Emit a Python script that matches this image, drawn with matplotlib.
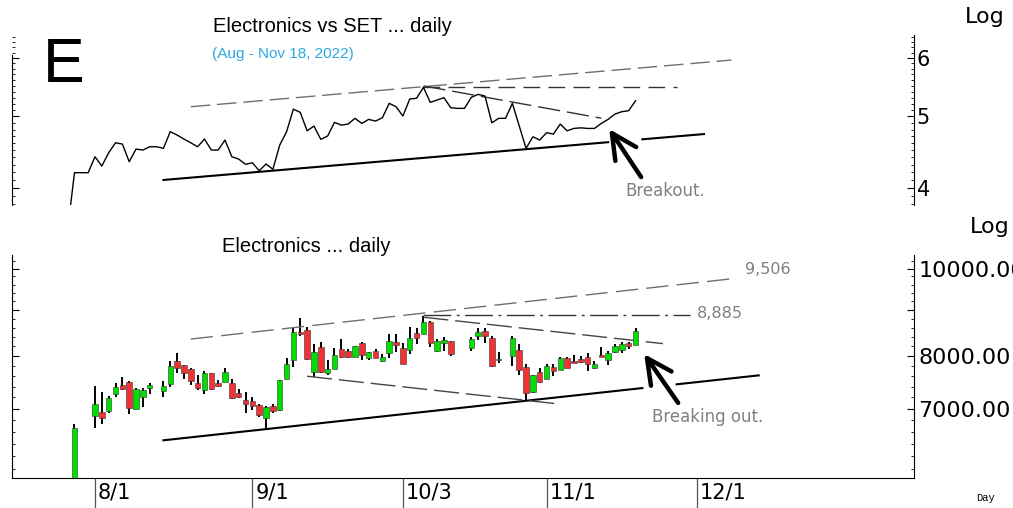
import numpy as np
import pandas as pd
import matplotlib

matplotlib.use("Agg")
import matplotlib.pyplot as plt
from matplotlib.ticker import FixedLocator, NullFormatter

W, H = 1013, 508
BASE = "2022-08-01"  # weekday axis: position = weekdays since 8/1 (holidays keep a slot)

# ---- Electronics vs SET ratio (weekdays, holidays carried forward) ----
ratio_start, ratio_end = "2022-07-26", "2022-11-18"
ratio = [
    3.51, 4.196, 4.196, 4.196,
    4.410, 4.284, 4.465, 4.606, 4.588, 4.342, 4.517, 4.503, 4.550, 4.550,
    4.527, 4.768, 4.719, 4.660, 4.606, 4.550, 4.660, 4.503, 4.503, 4.646,
    4.410, 4.378, 4.307,
    4.328, 4.222, 4.311, 4.241, 4.573, 4.768, 5.116, 5.064, 4.782, 4.852,
    4.656, 4.704, 4.909, 4.867, 4.883, 4.971, 4.893, 4.955, 4.929, 4.980,
    5.209, 5.154,
    5.007, 5.280, 5.292, 5.476, 5.225, 5.263, 5.301, 5.138, 5.128, 5.128,
    5.307, 5.357, 5.329, 4.902, 4.971, 4.971, 5.209, 4.855, 4.527, 4.693,
    4.646,
    4.753, 4.733, 4.883, 4.782, 4.817, 4.826, 4.817, 4.817, 4.893, 4.955,
    5.038, 5.075, 5.091, 5.251,
]

# ---- Electronics index, daily OHLC ----
dates = [
    "2022-07-27", "2022-08-01", "2022-08-02", "2022-08-03", "2022-08-04", "2022-08-05",
    "2022-08-08", "2022-08-09", "2022-08-10", "2022-08-11", "2022-08-15", "2022-08-16",
    "2022-08-17", "2022-08-18", "2022-08-19", "2022-08-22", "2022-08-23", "2022-08-24",
    "2022-08-25", "2022-08-26", "2022-08-29", "2022-08-30", "2022-08-31", "2022-09-01",
    "2022-09-02", "2022-09-05", "2022-09-06", "2022-09-07", "2022-09-08", "2022-09-09",
    "2022-09-12", "2022-09-13", "2022-09-14", "2022-09-15", "2022-09-16", "2022-09-19",
    "2022-09-20", "2022-09-21", "2022-09-22", "2022-09-23", "2022-09-26", "2022-09-27",
    "2022-09-28", "2022-09-29", "2022-09-30", "2022-10-03", "2022-10-04", "2022-10-05",
    "2022-10-06", "2022-10-07", "2022-10-10", "2022-10-11", "2022-10-12", "2022-10-17",
    "2022-10-18", "2022-10-19", "2022-10-20", "2022-10-21", "2022-10-25", "2022-10-26",
    "2022-10-27", "2022-10-28", "2022-10-31", "2022-11-01", "2022-11-02", "2022-11-03",
    "2022-11-04", "2022-11-07", "2022-11-08", "2022-11-09", "2022-11-10", "2022-11-11",
    "2022-11-14", "2022-11-15", "2022-11-16", "2022-11-17", "2022-11-18",
]
opens = [
    5700, 6874, 6944, 6956, 7258, 7426, 7484, 6997, 7214, 7370, 7314, 7451,
    7907, 7821, 7735, 7477, 7338, 7657, 7464, 7490, 7464, 7276, 7154, 7141,
    7068, 6839, 7045, 6974, 7553, 7921, 8513, 8551, 7688, 8181, 7667, 7741,
    8146, 8105, 7990, 8280, 7956, 8112, 7907, 8059, 8294, 8173, 8126, 8481,
    8464, 8737, 8105, 8280, 8315, 8160, 8410, 8527, 8378, 7921, 8003, 8126,
    7774, 7295, 7688, 7553, 7788, 7721, 7969, 7901, 7935, 7977, 7754, 8024,
    7921, 8079, 8126, 8267, 8231,
]
highs = [
    6725, 7413, 7295, 7232, 7464, 7591, 7503, 7375, 7375, 7464, 7515, 7907,
    8071, 7830, 7767, 7624, 7708, 7670, 7528, 7754, 7547, 7351, 7306, 7203,
    7075, 7045, 7081, 7535, 7956, 8588, 8809, 8623, 8252, 8288, 7921, 8160,
    8352, 8140, 8215, 8285, 8091, 8140, 8044, 8455, 8455, 8267, 8612, 8588,
    8859, 8750, 8357, 8393, 8320, 8393, 8588, 8588, 8410, 8091, 8420, 8252,
    7841, 7630, 7754, 7841, 7835, 7975, 7975, 8024, 8003, 8059, 7907, 8194,
    8112, 8252, 8288, 8288, 8588,
]
lows = [
    5650, 6656, 6730, 6916, 7203, 7338, 6898, 6990, 7033, 7264, 7214, 7400,
    7667, 7541, 7432, 7338, 7258, 7338, 7389, 7485, 7167, 7185, 6916, 6974,
    6846, 6641, 6916, 6965, 7545, 7775, 8420, 7930, 7591, 7657, 7624, 7735,
    7956, 7956, 7980, 7921, 7921, 7956, 7887, 7956, 8079, 7835, 8044, 8245,
    8455, 8194, 8079, 8112, 8010, 8112, 8325, 8280, 7788, 7866, 7801, 7624,
    7154, 7290, 7477, 7548, 7605, 7715, 7760, 7854, 7854, 7708, 7750, 7977,
    7821, 8059, 8071, 8140, 8225,
]
closes = [
    6657, 7081, 6829, 7190, 7389, 7351, 7015, 7351, 7338, 7426, 7413, 7807,
    7754, 7657, 7509, 7370, 7657, 7351, 7413, 7688, 7196, 7203, 7081, 7045,
    6886, 7022, 6956, 7528, 7841, 8500, 8464, 7935, 8079, 7675, 7741, 8024,
    7977, 7977, 8205, 8024, 8079, 7969, 7977, 8315, 8224, 7841, 8378, 8388,
    8737, 8280, 8320, 8336, 8044, 8357, 8513, 8410, 7801, 7935, 8378, 7721,
    7276, 7624, 7496, 7801, 7702, 7969, 7767, 7866, 7887, 7841, 7841, 7990,
    8059, 8215, 8245, 8215, 8536,
]

# ---- hand-drawn trend lines: (date, value) end points ----
top_support = [("2022-08-15", 4.102), ("2022-12-02", 4.733)]
top_support_gap = ("2022-11-14", "2022-11-21")
top_upper = [("2022-08-19", 5.154), ("2022-12-08", 5.961)]
top_flat = [("2022-10-06", 5.473), ("2022-11-28", 5.473)]
top_falling = [("2022-10-06", 5.50), ("2022-11-11", 4.973)]

bot_support = [("2022-08-15", 6456), ("2022-12-14", 7617)]
bot_support_gap = ("2022-11-21", "2022-11-28")
bot_upper = [("2022-08-19", 8355), ("2022-12-08", 9741)]
bot_flat = [("2022-10-06", 8885), ("2022-11-30", 8885)]
bot_falling = [("2022-10-06", 8833), ("2022-11-24", 8259)]
bot_falling_low = [("2022-09-13", 7600), ("2022-11-03", 7079)]

tick_dates = ["2022-08-01", "2022-09-01", "2022-10-03", "2022-11-01", "2022-12-01"]
tick_labels = ["8/1", "9/1", "10/3", "11/1", "12/1"]


def xpos(d):
    return np.busday_count(BASE, np.array(d, dtype="datetime64[D]"))


def line(ax, pts, **kw):
    ax.plot(xpos([p[0] for p in pts]), [p[1] for p in pts], **kw)


def broken_line(ax, pts, gap, **kw):
    xs = xpos([p[0] for p in pts])
    ly = np.log([p[1] for p in pts])
    g = xpos(list(gap))
    yg = np.exp(np.interp(g, xs, ly))
    ax.plot([xs[0], g[0]], [pts[0][1], yg[0]], **kw)
    ax.plot([g[1], xs[1]], [yg[1], pts[1][1]], **kw)


def fx(x):
    return x / W


def fy(y):
    return 1 - y / H


fig = plt.figure(figsize=(W / 100, H / 100), dpi=100)
ax_t = fig.add_axes((fx(12), fy(205), (914 - 12) / W, (205 - 35) / H))
ax_b = fig.add_axes((fx(12), fy(478), (914 - 12) / W, (478 - 255) / H))

XLIM = (-12.13, 119.7)
NUM = "DejaVu Sans"
SANS = "Liberation Sans"
GREY_LINE = "#6e6e6e"

# --- top panel: ratio line ---
k_ratio = xpos(pd.bdate_range(ratio_start, ratio_end).values.astype("datetime64[D]"))
ax_t.plot(k_ratio, ratio, color="black", lw=1.0, zorder=3)
broken_line(ax_t, top_support, top_support_gap, color="black", lw=1.5)
line(ax_t, top_upper, color=GREY_LINE, lw=1.0, ls=(0, (14, 5)))
line(ax_t, top_flat, color="#333333", lw=1.0, ls=(0, (12, 6)))
line(ax_t, top_falling, color="#333333", lw=1.0, ls=(0, (16, 5)))

ax_t.set_xlim(*XLIM)
ax_t.set_yscale("log")
ax_t.set_ylim(3.794, 6.446)
ax_t.yaxis.set_major_locator(FixedLocator([4, 5, 6]))
ax_t.set_yticklabels(["4", "5", "6"])
ax_t.yaxis.set_minor_locator(FixedLocator(np.arange(3.8, 6.45, 0.1)))
ax_t.yaxis.set_minor_formatter(NullFormatter())
ax_t.tick_params(axis="y", which="both", left=True, right=True, labelleft=False,
                 labelright=True, direction="in", labelsize=15, pad=2)
ax_t.tick_params(axis="y", which="major", length=5)
ax_t.tick_params(axis="y", which="minor", length=2.5)
for lbl in ax_t.get_yticklabels():
    lbl.set_family(NUM)
ax_t.set_xticks([])
ax_t.spines[["top", "bottom"]].set_visible(False)
ax_t.spines["left"].set_bounds(3.794, 6.056)
ax_t.patch.set_alpha(0)

ax_t.annotate("", xy=(75.15, 4.808), xytext=(79.82, 4.139),
              arrowprops=dict(arrowstyle="->,head_length=0.9,head_width=0.45",
                              lw=3.2, color="black", mutation_scale=20,
                              shrinkA=0, shrinkB=0),
              annotation_clip=False)

# --- bottom panel: candlesticks ---
k = xpos(dates)
o, hi, lo, c = map(np.array, (opens, highs, lows, closes))
up = c >= o
ax_b.vlines(k, lo, hi, color="black", lw=1.4, zorder=2)
ax_b.bar(k, np.abs(c - o), bottom=np.minimum(o, c), width=0.8,
         color=np.where(up, "#00e000", "#f03232"), edgecolor="#333333",
         linewidth=0.4, zorder=3)

broken_line(ax_b, bot_support, bot_support_gap, color="black", lw=1.5)
line(ax_b, bot_upper, color=GREY_LINE, lw=1.0, ls=(0, (16, 6)))
line(ax_b, bot_flat, color="#333333", lw=1.0, ls=(0, (20, 4, 2, 4)))
line(ax_b, bot_falling, color="#444444", lw=1.0, ls=(0, (18, 5)))
line(ax_b, bot_falling_low, color="#444444", lw=1.0, ls=(0, (18, 5)))

ax_b.set_xlim(*XLIM)
ax_b.set_yscale("log")
ax_b.set_ylim(5865, 10350)
ax_b.yaxis.set_major_locator(FixedLocator([7000, 8000, 9000, 10000]))
ax_b.set_yticklabels(["7000.00", "8000.00", "", "10000.00"])
ax_b.yaxis.set_minor_locator(FixedLocator(np.arange(6000, 10400, 200)))
ax_b.yaxis.set_minor_formatter(NullFormatter())
ax_b.tick_params(axis="y", which="both", left=True, right=True, labelleft=False,
                 labelright=True, direction="in", labelsize=16, pad=3)
ax_b.tick_params(axis="y", which="major", length=5)
ax_b.tick_params(axis="y", which="minor", length=2.5)
for lbl in ax_b.get_yticklabels():
    lbl.set_family(NUM)
ax_b.spines["top"].set_visible(False)

tk = xpos(tick_dates)
ax_b.set_xticks(tk)
ax_b.set_xticklabels([""] * len(tk))
ax_b.tick_params(axis="x", direction="out", length=22, width=0.9, color="#555555")
for kk, lab in zip(tk, tick_labels):
    ax_b.annotate(lab, xy=(kk, 0), xycoords=("data", "axes fraction"),
                  xytext=(2, -3), textcoords="offset points", ha="left", va="top",
                  fontsize=15, family=NUM, annotation_clip=False)

ax_b.annotate("", xy=(80.26, 8043), xytext=(85.23, 7101),
              arrowprops=dict(arrowstyle="->,head_length=0.9,head_width=0.45",
                              lw=3.2, color="black", mutation_scale=20,
                              shrinkA=0, shrinkB=0),
              annotation_clip=False)

# --- texts ---
fig.text(fx(43), fy(82), "E", fontsize=45, family=SANS, va="baseline")
fig.text(fx(213), fy(31.5), "Electronics vs SET ... daily", fontsize=14.5,
         family=SANS, va="baseline")
fig.text(fx(212), fy(58), "(Aug - Nov 18, 2022)", fontsize=11, family=SANS,
         color="#29a8e0", va="baseline")
fig.text(fx(221.5), fy(252.5), "Electronics ... daily", fontsize=14.5,
         family=SANS, va="baseline")
fig.text(fx(965), fy(22.7), "Log", fontsize=16, family=NUM, va="baseline")
fig.text(fx(970), fy(232.5), "Log", fontsize=16, family=NUM, va="baseline")
fig.text(fx(976), fy(501), "Day", fontsize=7.5, family="Liberation Mono",
         va="baseline")
fig.text(fx(625), fy(191), "Breakout.", fontsize=12, family=NUM,
         color="#808080", va="center")
fig.text(fx(652), fy(417), "Breaking out.", fontsize=12, family=NUM,
         color="#808080", va="center")
fig.text(fx(745), fy(270), "9,506", fontsize=11.5, family=NUM,
         color="#808080", va="center")
fig.text(fx(697), fy(313), "8,885", fontsize=11.5, family=NUM,
         color="#808080", va="center")

fig.savefig("out.png", dpi=100)
plt.close(fig)
